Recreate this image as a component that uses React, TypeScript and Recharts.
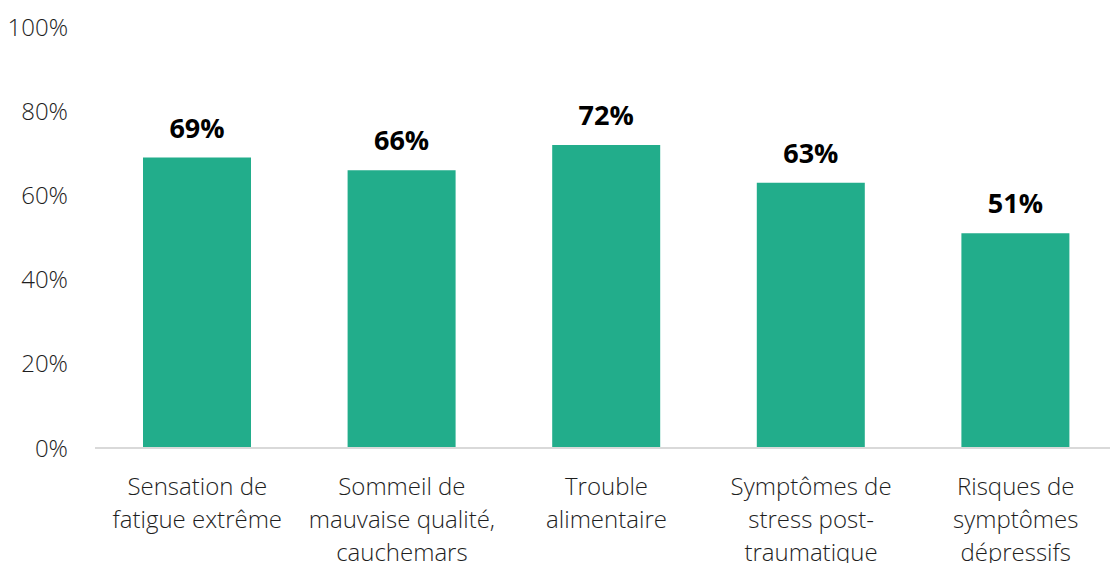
import { Bar, BarChart, LabelList, XAxis, YAxis } from 'recharts'

const categories = [
  'Sensation de\nfatigue extrême',
  'Sommeil de\nmauvaise qualité,\ncauchemars',
  'Trouble\nalimentaire',
  'Symptômes de\nstress post-\ntraumatique',
  'Risques de\nsymptômes\ndépressifs',
]
const values = [69, 66, 72, 63, 51]
const yTicks = [0, 20, 40, 60, 80, 100]

const data = categories.map((name, i) => ({ name, value: values[i] }))

const FONT = '"Open Sans", Lato, sans-serif'

function CategoryTick({ x, y, payload }: any) {
  const lines = String(payload.value).split('\n')
  return (
    <text
      x={x}
      y={y}
      textAnchor="middle"
      fill="#1e1e1e"
      fontFamily={FONT}
      fontWeight={300}
      fontSize={24}
    >
      {lines.map((line, i) => (
        <tspan key={i} x={x} dy={i === 0 ? 39 : 33}>
          {line}
        </tspan>
      ))}
    </text>
  )
}

export default function App() {
  return (
    <div
      style={{
        position: 'absolute',
        left: 0,
        top: 0,
        width: 1110,
        height: 563,
        overflow: 'hidden',
        background: '#fff',
      }}
    >
      <BarChart
        width={1118}
        height={563}
        data={data}
        margin={{ top: 27, right: 0, bottom: 0, left: 0 }}
      >
        <XAxis
          dataKey="name"
          interval={0}
          height={115}
          axisLine={{ stroke: '#d9d9d9', strokeWidth: 2 }}
          tickLine={false}
          tick={<CategoryTick />}
        />
        <YAxis
          width={95}
          domain={[0, 100]}
          ticks={yTicks}
          axisLine={false}
          tickLine={false}
          tickSize={0}
          tickMargin={27}
          tickFormatter={(v) => `${v}%`}
          tick={{ fill: '#1e1e1e', fontSize: 24, fontFamily: FONT, fontWeight: 300 }}
        />
        <Bar dataKey="value" fill="#22ad8b" barSize={108} isAnimationActive={false}>
          <LabelList
            dataKey="value"
            position="top"
            offset={20}
            formatter={(v: any) => `${v}%`}
            style={{ fill: '#000', fontSize: 27, fontWeight: 700, fontFamily: FONT }}
          />
        </Bar>
      </BarChart>
    </div>
  )
}
